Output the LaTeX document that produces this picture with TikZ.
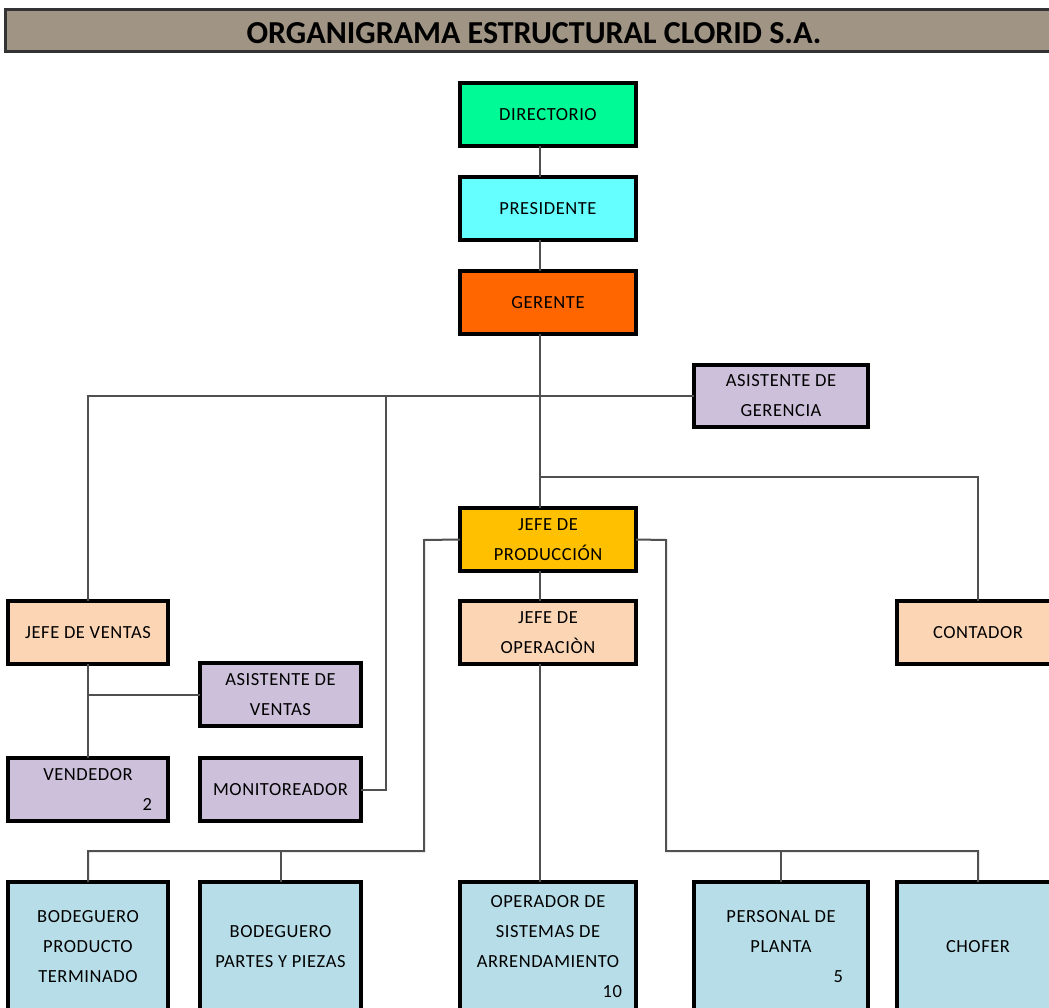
\documentclass[tikz,border=0pt]{standalone}
\usepackage{fontspec}
\setmainfont{Carlito}
\definecolor{titlefill}{HTML}{A09484}
\definecolor{cdir}{HTML}{00FA96}
\definecolor{cpres}{HTML}{66FFFF}
\definecolor{cger}{HTML}{FF6600}
\definecolor{cjp}{HTML}{FFC000}
\definecolor{cpeach}{HTML}{FCD5B4}
\definecolor{clav}{HTML}{CCC0DA}
\definecolor{cblue}{HTML}{B7DEE8}
\definecolor{cline}{HTML}{505050}
\tikzset{
  box/.style={draw=black, line width=3.5pt, rectangle, anchor=north west, align=center,
    inner sep=0pt, outer sep=0pt, font=\fontsize{18.5}{30}\selectfont\addfontfeatures{LetterSpace=3}},
  conn/.style={draw=cline, line width=2pt}
}
\begin{document}
\begin{tikzpicture}[x=1pt,y=-1pt]
\clip (0,0) rectangle (1049,1008);
\fill[white] (0,0) rectangle (1049,1008);
% title
\draw[fill=titlefill, line width=3pt, draw=black!80] (5,10) rectangle (1070,52);
\node[font=\bfseries\fontsize{32}{34}\selectfont] (title) at (534,33) {ORGANIGRAMA ESTRUCTURAL CLORID S.A.};
\coordinate (spine) at (540,0);
% boxes
\node[box, fill=cdir, minimum width=176pt, minimum height=63pt] (dir) at (460,83) {DIRECTORIO};
\node[box, fill=cpres, minimum width=176pt, minimum height=63pt] (pres) at (460,177) {PRESIDENTE};
\node[box, fill=cger, minimum width=176pt, minimum height=63pt] (ger) at (460,271) {GERENTE};
\node[box, fill=clav, minimum width=174pt, minimum height=62pt] (asg) at (694,365) {ASISTENTE DE\\GERENCIA};
\node[box, fill=cjp, minimum width=176pt, minimum height=63pt] (jp) at (460,508) {JEFE DE\\PRODUCCIÓN};
\node[box, fill=cpeach, minimum width=176pt, minimum height=63pt] (jo) at (460,601) {JEFE DE\\OPERACIÒN};
\node[box, fill=cpeach, minimum width=162pt, minimum height=63pt] (cont) at (897,601) {CONTADOR};
\node[box, fill=cpeach, minimum width=160pt, minimum height=63pt] (jv) at (8,601) {JEFE DE VENTAS};
\node[box, fill=clav, minimum width=161pt, minimum height=63pt] (asv) at (200,663) {ASISTENTE DE\\VENTAS};
\node[box, fill=clav, minimum width=160pt, minimum height=63pt] (vend) at (8,758) {VENDEDOR\\\makebox[128pt][r]{2}};
\node[box, fill=clav, minimum width=161pt, minimum height=63pt] (mon) at (200,758) {MONITOREADOR};
\node[box, fill=cblue, minimum width=160pt, minimum height=130pt] (b1) at (8,882) {BODEGUERO\\PRODUCTO\\TERMINADO};
\node[box, fill=cblue, minimum width=161pt, minimum height=130pt] (b2) at (200,882) {BODEGUERO\\PARTES Y PIEZAS};
\node[box, fill=cblue, minimum width=176pt, minimum height=130pt] (op) at (460,882) {OPERADOR DE\\SISTEMAS DE\\ARRENDAMIENTO\\\makebox[148pt][r]{10}};
\node[box, fill=cblue, minimum width=174pt, minimum height=130pt] (pp) at (694,882) {PERSONAL DE\\PLANTA\\\makebox[124pt][r]{5}};
\node[box, fill=cblue, minimum width=162pt, minimum height=130pt] (cho) at (897,882) {CHOFER};
% connector corner points
\coordinate (hA) at (88,396);
\coordinate (hM) at (386,396);
\coordinate (hC) at (540,477);
\coordinate (pL) at (424,540);
\coordinate (pLb) at (424,851);
\coordinate (pR) at (666,540);
\coordinate (pRb) at (666,851);
\coordinate (vA) at (88,694.5);
% connectors
\draw[conn] (dir.south -| spine) -- (pres.north -| spine);
\draw[conn] (pres.south -| spine) -- (ger.north -| spine);
\draw[conn] (ger.south -| spine) -- (jp.north -| spine);
\draw[conn] (asg.west) -- (hA) -- (jv.north);
\draw[conn] (hM) |- (mon.east);
\draw[conn] (hC) -| (cont.north);
\draw[conn] (jp.south -| spine) -- (jo.north -| spine);
\draw[conn] (jo.south -| spine) -- (op.north -| spine);
\draw[conn] (jp.west) -- (pL) -- (pLb) -| (b1.north);
\draw[conn] (b2.north) -- (b2.north |- pLb);
\draw[conn] (jp.east) -- (pR) -- (pRb) -| (cho.north);
\draw[conn] (pp.north) -- (pp.north |- pRb);
\draw[conn] (jv.south) -- (vend.north);
\draw[conn] (vA) -- (asv.west);
\end{tikzpicture}
\end{document}
